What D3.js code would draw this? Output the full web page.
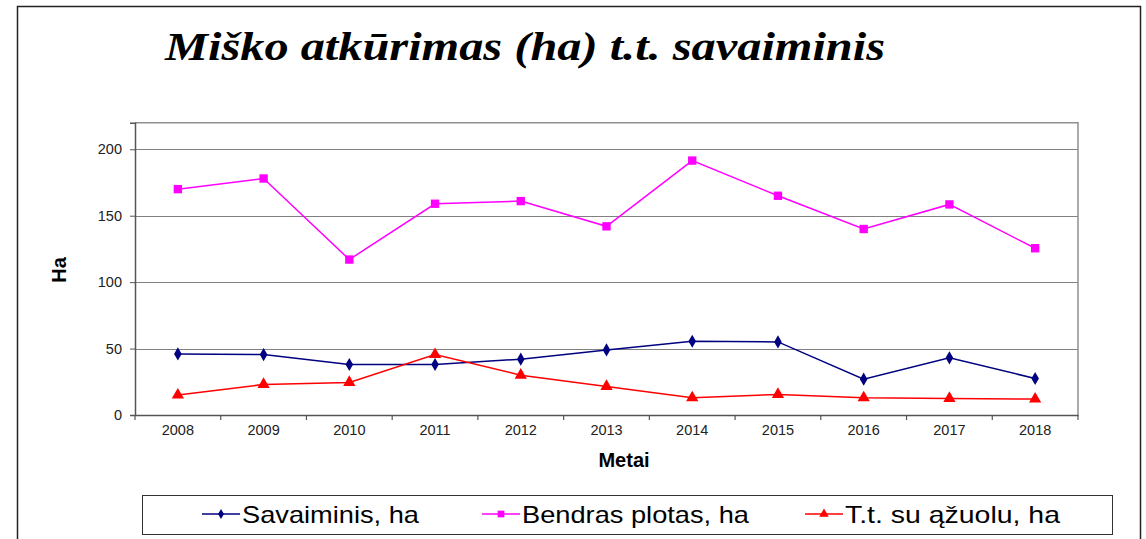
<!DOCTYPE html>
<html><head><meta charset="utf-8">
<script src="https://cdn.jsdelivr.net/npm/d3@7/dist/d3.min.js"></script>
<style>body{margin:0;background:#fff;} svg{display:block;}</style>
</head><body>
<svg id="c" width="1146" height="539"></svg>
<script>
const years = ["2008","2009","2010","2011","2012","2013","2014","2015","2016","2017","2018"];
const savaiminis = [46, 45.5, 38, 38, 42, 49, 55.5, 55, 27, 43, 27.5];
const bendras = [170, 178, 117, 159, 161, 142, 191.5, 165, 140, 158.5, 125.5];
const azuolu = [15, 23, 24.5, 45.5, 30, 21.5, 13, 15.5, 13, 12.5, 12];
const yTicks = [0, 50, 100, 150, 200];
const seriesNames = ["Savaiminis, ha", "Bendras plotas, ha", "T.t. su ąžuolu, ha"];
const seriesColors = ["#000080", "#ff00ff", "#ff0000"];
const seriesShapes = [d3.symbolDiamond, d3.symbolSquare, d3.symbolTriangle];

const svg = d3.select("#c");
const L = 135, R = 1078, T = 122.7, B = 415;
const sans = "Liberation Sans, Arial, sans-serif";

// outer frame
svg.append("path").attr("d", "M17.5,539 L17.5,6.5 L1140.5,6.5 L1140.5,539")
  .attr("fill", "none").attr("stroke", "#222").attr("stroke-width", 1.5);

// title
svg.append("text").attr("x", 165).attr("y", 60)
  .attr("font-family", "Liberation Serif, Times New Roman, serif")
  .attr("font-style", "italic").attr("font-weight", "bold").attr("font-size", 40)
  .attr("textLength", 720).attr("lengthAdjust", "spacingAndGlyphs")
  .text("Miško atkūrimas (ha) t.t. savaiminis");

const x = d3.scaleBand().domain(years).range([L, R]);
const y = d3.scaleLinear().domain([0, 220]).range([B, T]);

// grid
svg.append("g").selectAll("line").data(yTicks.filter(d => d > 0)).join("line")
  .attr("x1", L).attr("x2", R).attr("y1", d => Math.round(y(d)) + 0.5).attr("y2", d => Math.round(y(d)) + 0.5)
  .attr("stroke", "#808080").attr("stroke-width", 1.2);

// plot border top/right
svg.append("path").attr("d", `M${L},${T} L${R},${T} L${R},${B}`)
  .attr("fill", "none").attr("stroke", "#909090").attr("stroke-width", 1.5);

// y axis
const yAxis = d3.axisLeft(y).tickValues(yTicks).tickSize(5).tickPadding(8);
const gy = svg.append("g").attr("transform", `translate(${L},0)`).call(yAxis);
gy.select(".domain").attr("stroke", "#555").attr("stroke-width", 1.5);
gy.selectAll(".tick line").attr("stroke", "#555");
gy.selectAll("text").attr("font-family", sans).attr("font-size", 14.5).attr("fill", "#222");

// x axis
const xAxis = d3.axisBottom(x).tickSize(0).tickPadding(10);
const gx = svg.append("g").attr("transform", `translate(0,${B})`).call(xAxis);
gx.select(".domain").attr("stroke", "#555").attr("stroke-width", 1.5);
gx.selectAll("text").attr("font-family", sans).attr("font-size", 14.5).attr("fill", "#222");
// category separator ticks
svg.append("g").selectAll("line").data(years.concat(["end"])).join("line")
  .attr("x1", (d, i) => i < years.length ? x(d) : R).attr("x2", (d, i) => i < years.length ? x(d) : R)
  .attr("y1", B).attr("y2", B + 5).attr("stroke", "#555").attr("stroke-width", 1.2);

// axis titles
svg.append("text").attr("transform", "translate(66,270) rotate(-90)").attr("text-anchor", "middle")
  .attr("font-family", sans).attr("font-weight", "bold").attr("font-size", 20)
  .text("Ha");
svg.append("text").attr("x", 624).attr("y", 467).attr("text-anchor", "middle")
  .attr("font-family", sans).attr("font-weight", "bold").attr("font-size", 20)
  .text("Metai");

// series
const allSeries = [savaiminis, bendras, azuolu];
const line = d3.line().x((d, i) => x(years[i]) + x.bandwidth() / 2).y(d => y(d));
const symSizes = [50, 70, 65];
allSeries.forEach((vals, si) => {
  svg.append("path").datum(vals).attr("d", line).attr("fill", "none")
    .attr("stroke", seriesColors[si]).attr("stroke-width", 1.5);
  svg.append("g").selectAll("path").data(vals).join("path")
    .attr("transform", (d, i) => `translate(${x(years[i]) + x.bandwidth() / 2},${y(d)})`)
    .attr("d", d3.symbol().type(seriesShapes[si]).size(symSizes[si]))
    .attr("fill", seriesColors[si]);
});

// legend
svg.append("rect").attr("x", 142.5).attr("y", 495.5).attr("width", 970).attr("height", 39)
  .attr("fill", "#fff").attr("stroke", "#333").attr("stroke-width", 1);
const legX = [202, 482, 805];
const legW = [177, 227, 215];
const legSizes = [30, 45, 40];
seriesNames.forEach((n, i) => {
  const g = svg.append("g").attr("transform", `translate(${legX[i]},514)`);
  g.append("line").attr("x1", 0).attr("x2", 38).attr("stroke", seriesColors[i]).attr("stroke-width", 1.5);
  g.append("path").attr("transform", "translate(19,0)").attr("d", d3.symbol().type(seriesShapes[i]).size(legSizes[i])).attr("fill", seriesColors[i]);
  g.append("text").attr("x", 40).attr("y", 8.5).attr("font-family", sans)
    .attr("font-size", 24).attr("fill", "#000")
    .attr("textLength", legW[i]).attr("lengthAdjust", "spacingAndGlyphs").text(n);
});
</script>
</body></html>
